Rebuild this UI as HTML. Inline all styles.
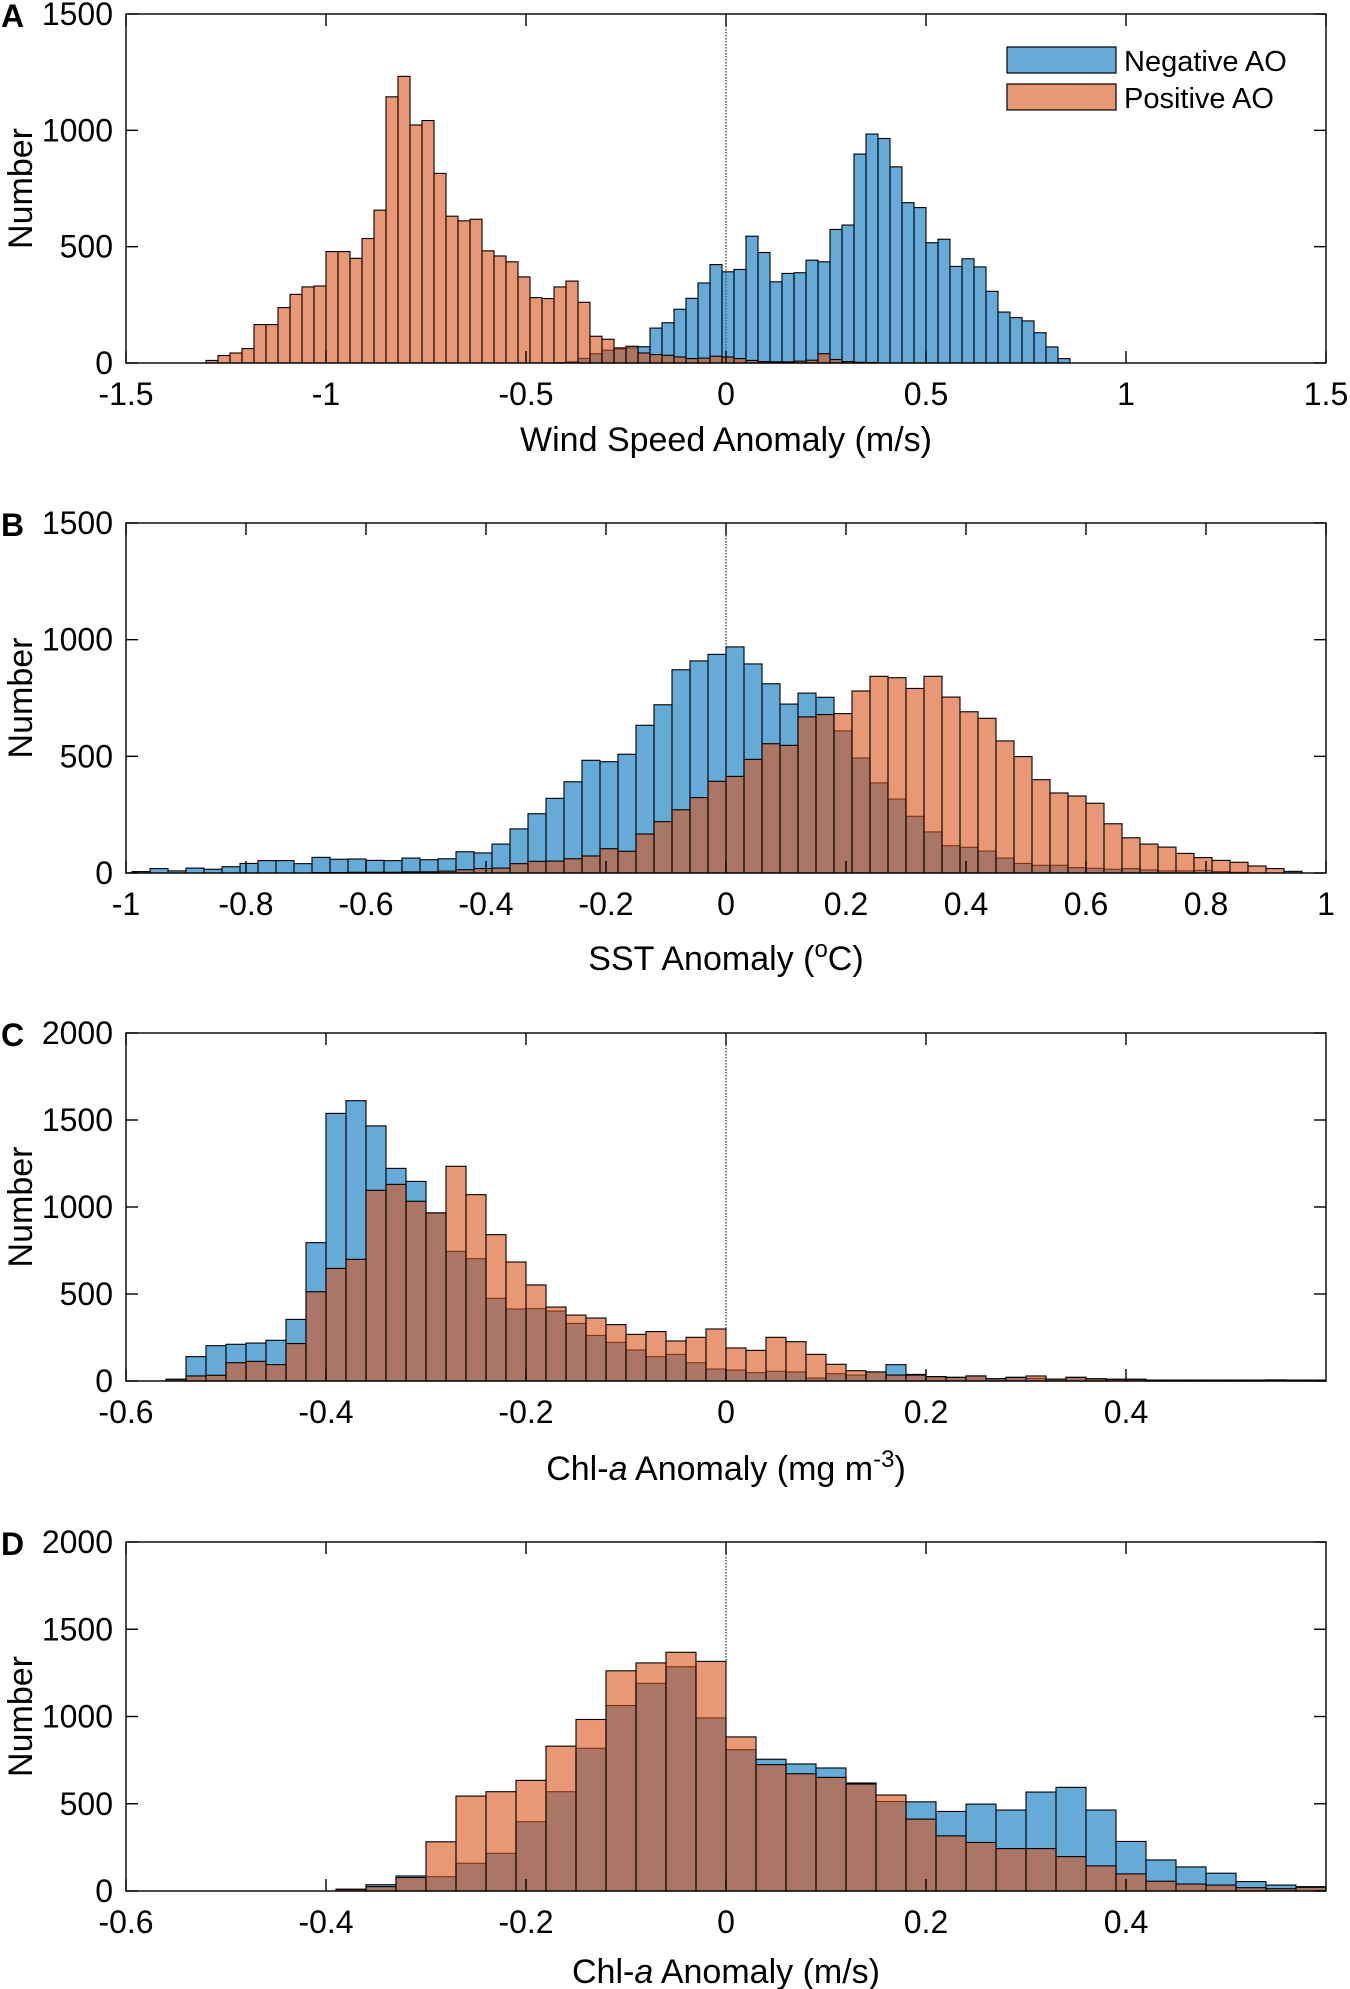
<!DOCTYPE html>
<html><head><meta charset="utf-8"><title>AO histograms</title>
<style>
html,body{margin:0;padding:0;background:#fff;}
svg{display:block;font-family:"Liberation Sans",Arial,sans-serif;}
</style></head>
<body>
<svg id="fig" xmlns="http://www.w3.org/2000/svg" width="1350" height="1989" viewBox="0 0 1350 1989"></svg>
<script>
// ---- Panel A: Wind speed anomaly ----
const aBinStart = -1.3;
const aBinWidth = 0.03;
const aNegative = [0,0,0,0,0,0,0,0,0,0,0,0,0,0,0,0,0,0,0,0,0,0,0,0,0,0,0,0,0,2,5,20,40,55,60,65,70,150,173,231,278,344,423,392,402,545,475,349,385,388,442,435,574,593,898,984,965,843,689,668,517,532,415,448,413,308,219,195,181,130,69,19];
const aPositive = [11,32,43,62,165,165,238,295,327,331,479,479,450,535,657,1144,1232,1023,1042,815,631,611,618,482,460,435,370,281,277,327,352,261,115,102,65,72,43,36,33,26,19,21,29,26,19,11,6,5,5,8,12,40,15,6,3,2,0,0,0,0,0,0,0,0,0,0,0,0,0,0,0,0];
const aXTicks = [-1.5,-1,-0.5,0,0.5,1,1.5];
const aXTickLabels = ["-1.5","-1","-0.5","0","0.5","1","1.5"];
const aYTicks = [0,500,1000,1500];

// ---- Panel B: SST anomaly ----
const bBinStart = -0.99;
const bBinWidth = 0.03;
const bNegative = [6,19,9,21,16,27,41,53,53,40,67,59,60,54,53,64,57,61,91,86,124,189,254,320,391,483,477,509,633,721,871,909,937,969,896,811,724,771,753,609,493,386,317,243,176,117,110,94,64,41,33,33,23,20,16,19,13,9,9,11,6,3,0,0,0,0];
const bPositive = [0,0,0,0,0,0,0,0,0,0,2,2,3,3,3,5,5,8,14,19,21,40,50,51,61,73,104,93,167,220,271,323,393,414,487,554,547,669,679,683,780,843,837,791,843,754,691,663,566,499,400,343,330,299,211,151,124,111,84,66,54,46,30,19,7,0];
const bXTicks = [-1,-0.8,-0.6,-0.4,-0.2,0,0.2,0.4,0.6,0.8,1];
const bXTickLabels = ["-1","-0.8","-0.6","-0.4","-0.2","0","0.2","0.4","0.6","0.8","1"];
const bYTicks = [0,500,1000,1500];

// ---- Panel C: Chl-a anomaly (mg m-3) ----
const cBinStart = -0.56;
const cBinWidth = 0.02;
const cNegative = [10,140,203,211,218,234,354,795,1538,1611,1466,1222,1147,966,745,703,475,414,416,402,331,262,222,178,140,153,105,69,63,48,56,52,17,42,34,52,94,38,25,21,29,13,21,15,11,21,13,10,10,5,5,5,5,5,5,6,5,5];
const cPositive = [10,29,33,105,113,94,215,513,647,699,1096,1130,1033,966,1234,1071,841,684,552,425,379,362,324,268,284,230,251,299,190,176,251,226,153,96,59,52,34,34,25,21,29,13,21,29,11,21,13,10,10,5,5,5,5,5,5,6,5,5];
const cXTicks = [-0.6,-0.4,-0.2,0,0.2,0.4];
const cXTickLabels = ["-0.6","-0.4","-0.2","0","0.2","0.4"];
const cYTicks = [0,500,1000,1500,2000];

// ---- Panel D: Chl-a anomaly (m/s) ----
const dBinStart = -0.39;
const dBinWidth = 0.03;
const dNegative = [10,36,86,82,159,216,397,569,818,1063,1190,1285,992,810,755,728,705,619,513,511,456,498,464,567,594,464,284,178,138,102,54,34,25];
const dPositive = [10,25,77,282,544,569,634,830,983,1262,1307,1368,1316,883,724,672,651,613,550,412,316,278,243,243,197,144,98,56,40,34,19,13,21];
const dXTicks = [-0.6,-0.4,-0.2,0,0.2,0.4];
const dXTickLabels = ["-0.6","-0.4","-0.2","0","0.2","0.4"];
const dYTicks = [0,500,1000,1500,2000];

const NS = "http://www.w3.org/2000/svg";
const svg = document.getElementById("fig");
const L = 126, R = 1326;
const BLUE = "rgb(0,114,189)", ORANGE = "rgb(217,83,25)";

function mk(tag, attrs, parent) {
  const e = document.createElementNS(NS, tag);
  for (const k in attrs) e.setAttribute(k, attrs[k]);
  (parent || svg).appendChild(e);
  return e;
}

function drawPanel(p) {
  const g = mk("g", {});
  
  
  const xs = v => L + (v - p.xmin) / (p.xmax - p.xmin) * (R - L);
  const ys = v => p.bottom - v / p.ymax * (p.bottom - p.top);

  const zl = mk("line", {x1: xs(0), x2: xs(0), y1: p.top, y2: p.bottom, stroke: "#000", "stroke-width": 1, "stroke-dasharray": "1.5,1.5"}, g);
  
  

  const series = [[p.neg, BLUE, "negative-ao"], [p.pos, ORANGE, "positive-ao"]];
  series.forEach(([vals, col, nm]) => {
    const sg = mk("g", {}, g);
    
    
    vals.forEach((v, i) => {
      if (v <= 0) return;
      const x0 = xs(p.binStart + i * p.binWidth), x1 = xs(p.binStart + (i + 1) * p.binWidth);
      const r = mk("rect", {x: x0, y: ys(v), width: x1 - x0, height: p.bottom - ys(v), fill: col, "fill-opacity": 0.6, stroke: "#000", "stroke-width": 1.1}, sg);
      
      
    });
  });

  const box = mk("rect", {x: L, y: p.top, width: R - L, height: p.bottom - p.top, fill: "none", stroke: "#000", "stroke-width": 1.4}, g);
  
  

  p.xticks.forEach((t, i) => {
    const x = xs(t);
    mk("line", {x1: x, x2: x, y1: p.bottom, y2: p.bottom - 12, stroke: "#000", "stroke-width": 1.4}, g);
    mk("line", {x1: x, x2: x, y1: p.top, y2: p.top + 12, stroke: "#000", "stroke-width": 1.4}, g);
    const tx = mk("text", {x: x, y: p.bottom + 42, "font-size": 32, "text-anchor": "middle", fill: "#000"}, g);
    tx.textContent = p.xlabels[i];
    
    
  });
  p.yticks.forEach(t => {
    const y = ys(t);
    mk("line", {x1: L, x2: L + 12, y1: y, y2: y, stroke: "#000", "stroke-width": 1.4}, g);
    mk("line", {x1: R, x2: R - 12, y1: y, y2: y, stroke: "#000", "stroke-width": 1.4}, g);
    const ty = mk("text", {x: 113, y: y + 11, "font-size": 32, "text-anchor": "end", fill: "#000"}, g);
    ty.textContent = String(t);
    
    
  });

  const cy = (p.top + p.bottom) / 2;
  const yl = mk("text", {x: 32, y: cy, "font-size": 34, "text-anchor": "middle", transform: "rotate(-90 32 " + cy + ")", fill: "#000"}, g);
  yl.textContent = "Number";
  
  

  const xl = mk("text", {x: 726, y: p.bottom + p.xlabOff, "font-size": 34, "text-anchor": "middle", fill: "#000"}, g);
  xl.innerHTML = p.xlabel;
  
  

  const pl = mk("text", {x: 1, y: p.top + 13, "font-size": 32, "font-weight": "bold", fill: "#000"}, g);
  pl.textContent = p.letter;
  
  
}

drawPanel({letter: "A", top: 14, bottom: 363, xmin: -1.5, xmax: 1.5, ymax: 1500, binStart: aBinStart, binWidth: aBinWidth, neg: aNegative, pos: aPositive, xticks: aXTicks, xlabels: aXTickLabels, yticks: aYTicks, xlabel: "Wind Speed Anomaly (m/s)", xlabOff: 88});
drawPanel({letter: "B", top: 523, bottom: 873, xmin: -1, xmax: 1, ymax: 1500, binStart: bBinStart, binWidth: bBinWidth, neg: bNegative, pos: bPositive, xticks: bXTicks, xlabels: bXTickLabels, yticks: bYTicks, xlabel: 'SST Anomaly (<tspan baseline-shift="super" font-size="24">o</tspan>C)', xlabOff: 97});
drawPanel({letter: "C", top: 1033, bottom: 1381, xmin: -0.6, xmax: 0.6, ymax: 2000, binStart: cBinStart, binWidth: cBinWidth, neg: cNegative, pos: cPositive, xticks: cXTicks, xlabels: cXTickLabels, yticks: cYTicks, xlabel: 'Chl-<tspan font-style="italic">a</tspan> Anomaly (mg m<tspan baseline-shift="super" font-size="24">-3</tspan>)', xlabOff: 99});
drawPanel({letter: "D", top: 1542, bottom: 1891, xmin: -0.6, xmax: 0.6, ymax: 2000, binStart: dBinStart, binWidth: dBinWidth, neg: dNegative, pos: dPositive, xticks: dXTicks, xlabels: dXTickLabels, yticks: dYTicks, xlabel: 'Chl-<tspan font-style="italic">a</tspan> Anomaly (m/s)', xlabOff: 92});

const lg = mk("g", {});


[[BLUE, "Negative AO", 47], [ORANGE, "Positive AO", 84]].forEach(([c, t, y]) => {
  const r = mk("rect", {x: 1007, y: y, width: 109, height: 26, fill: c, "fill-opacity": 0.6, stroke: "#000", "stroke-width": 1.2}, lg);
  
  
  const tx = mk("text", {x: 1124, y: y + 24, "font-size": 29, fill: "#000"}, lg);
  tx.textContent = t;
  
  
});
</script>
</body></html>
